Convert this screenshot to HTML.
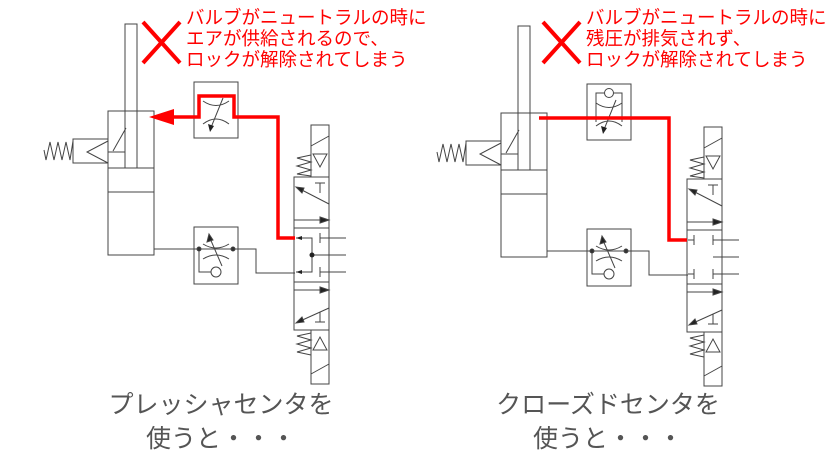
<!DOCTYPE html>
<html><head><meta charset="utf-8"><style>
html,body{margin:0;padding:0;background:#fff;}
svg{display:block;}
</style></head><body>
<svg width="828" height="465" viewBox="0 0 828 465" xmlns="http://www.w3.org/2000/svg">
<defs>
<g id="base" fill="none" stroke="#444" stroke-width="1">
  <rect x="125" y="24" width="12" height="144" fill="#fff"/>
  <rect x="108" y="111" width="46" height="144"/>
  <line x1="108" y1="168" x2="154" y2="168"/>
  <line x1="108" y1="192" x2="154" y2="192"/>
  <line x1="108" y1="152" x2="125" y2="152"/>
  <line x1="113" y1="151" x2="126" y2="128"/>
  <polyline points="108,139 73,139 73,163 108,163"/>
  <polyline points="108,141 87,152 108,163"/>
  <polyline points="73,141 70,160 66,142 62,160 58,142 54,160 50,142 46,160 44,150"/>
  <rect x="194" y="82" width="44" height="56"/>
  <path d="M203,101 Q216,110 229,101 M203,124 Q216,114 229,124"/>
  <line x1="210" y1="130" x2="223" y2="98"/>
  <rect x="194" y="227" width="44" height="57"/>
  <path d="M203,244 Q216,252 229,244 M203,259 Q216,251 229,259"/>
  <line x1="222" y1="266" x2="209" y2="236"/>
  <polygon points="209,234 207,242 213,240" fill="#222"/>
  <polyline points="199,249 199,272 211,272 M221,272 233,272 233,249"/>
  <circle cx="216" cy="272" r="5"/>
  <circle cx="199" cy="249" r="2" fill="#222"/>
  <circle cx="233" cy="249" r="2" fill="#222"/>
  <polyline points="154,249 256,249 256,273 295,273"/>
  <rect x="311" y="125" width="18" height="52"/>
  <line x1="311" y1="146" x2="329" y2="136"/>
  <polygon points="313,154 327,154 320,167"/>
  <polyline points="311,155 297,158 311,162 297,166 311,170 297,174 311,176"/>
  <rect x="294" y="177" width="35" height="153"/>
  <line x1="294" y1="228" x2="329" y2="228"/>
  <line x1="294" y1="282" x2="329" y2="282"/>
  <line x1="329" y1="204" x2="298" y2="188"/>
  <polygon points="296,187 302,193 304,188" fill="#222"/>
  <path d="M315,183 H325 M320,183 V193"/>
  <line x1="294" y1="220" x2="329" y2="220"/>
  <polygon points="329,220 320,217 320,223" fill="#222"/>
  <line x1="294" y1="290" x2="329" y2="290"/>
  <polygon points="329,290 320,287 320,293" fill="#222"/>
  <line x1="329" y1="308" x2="298" y2="322"/>
  <polygon points="296,323 302,317 304,322" fill="#222"/>
  <path d="M315,322 H325 M320,322 V312"/>
  <rect x="311" y="330" width="18" height="54"/>
  <polygon points="313,350 327,350 320,337"/>
  <line x1="311" y1="374" x2="329" y2="364"/>
  <polyline points="311,333 297,336 311,340 297,344 311,348 297,352 311,355"/>
  <line x1="320" y1="238" x2="346" y2="238"/>
  <line x1="320" y1="255" x2="346" y2="255"/>
  <line x1="320" y1="272" x2="346" y2="272"/>
  <path d="M320,233 V243 M320,267 V277"/>
</g>
</defs>

<use href="#base"/>
<g fill="none" stroke="#444" stroke-width="1">
  <polyline points="296,238 312,238 312,272 296,272"/>
  <line x1="312" y1="255" x2="346" y2="255"/>
</g>
<circle cx="312" cy="255" r="2.5" fill="#222"/>
<polygon points="296,238 302,236 302,240" fill="#222"/>
<polygon points="296,272 302,270 302,274" fill="#222"/>
<polygon points="210,132 208,124 214,126" fill="#222"/>
<polyline points="174,117 199,117 199,96 234,96 234,117 278,117 278,238 295,238" fill="none" stroke="#f00" stroke-width="3.5"/>
<polygon points="149,117 174,109 174,125" fill="#f00"/>
<g stroke="#f00" stroke-width="4"><line x1="143" y1="22" x2="180" y2="63"/><line x1="180" y1="22" x2="143" y2="63"/></g>
<g font-family="'Liberation Sans','Noto Sans CJK JP',sans-serif" font-size="18.5" fill="#f00">
<text x="186" y="24">バルブがニュートラルの時に</text>
<text x="186" y="45">エアが供給されるので、</text>
<text x="186" y="66">ロックが解除されてしまう</text>
</g>
<g font-family="'Liberation Sans','Noto Sans CJK JP',sans-serif" font-size="25" fill="#555" text-anchor="middle">
<text x="221" y="413">プレッシャセンタを</text>
<text x="221" y="447">使うと・・・</text>
</g>

<g transform="translate(393,2)">
<use href="#base"/>
<g fill="none" stroke="#444" stroke-width="1">
  <path d="M295,238 H301 M301,233 V243 M295,272 H301 M301,267 V277"/>
  <path d="M203,97 V91 H212 M220,91 H229 V120"/>
  <path d="M203,97 V120"/>
  <circle cx="216" cy="91" r="4.5" fill="#fff"/>
</g>
<polygon points="210,132 208,124 214,126" fill="#222"/>
<polyline points="146,116 276,116 276,238 294,238" fill="none" stroke="#f00" stroke-width="3.5"/>
</g>
<g stroke="#f00" stroke-width="4"><line x1="543" y1="22" x2="580" y2="63"/><line x1="580" y1="22" x2="543" y2="63"/></g>
<g font-family="'Liberation Sans','Noto Sans CJK JP',sans-serif" font-size="18.5" fill="#f00">
<text x="586" y="24">バルブがニュートラルの時に</text>
<text x="586" y="45">残圧が排気されず、</text>
<text x="586" y="66">ロックが解除されてしまう</text>
</g>
<g font-family="'Liberation Sans','Noto Sans CJK JP',sans-serif" font-size="25" fill="#555" text-anchor="middle">
<text x="608" y="413">クローズドセンタを</text>
<text x="608" y="447">使うと・・・</text>
</g>
</svg>
</body></html>
